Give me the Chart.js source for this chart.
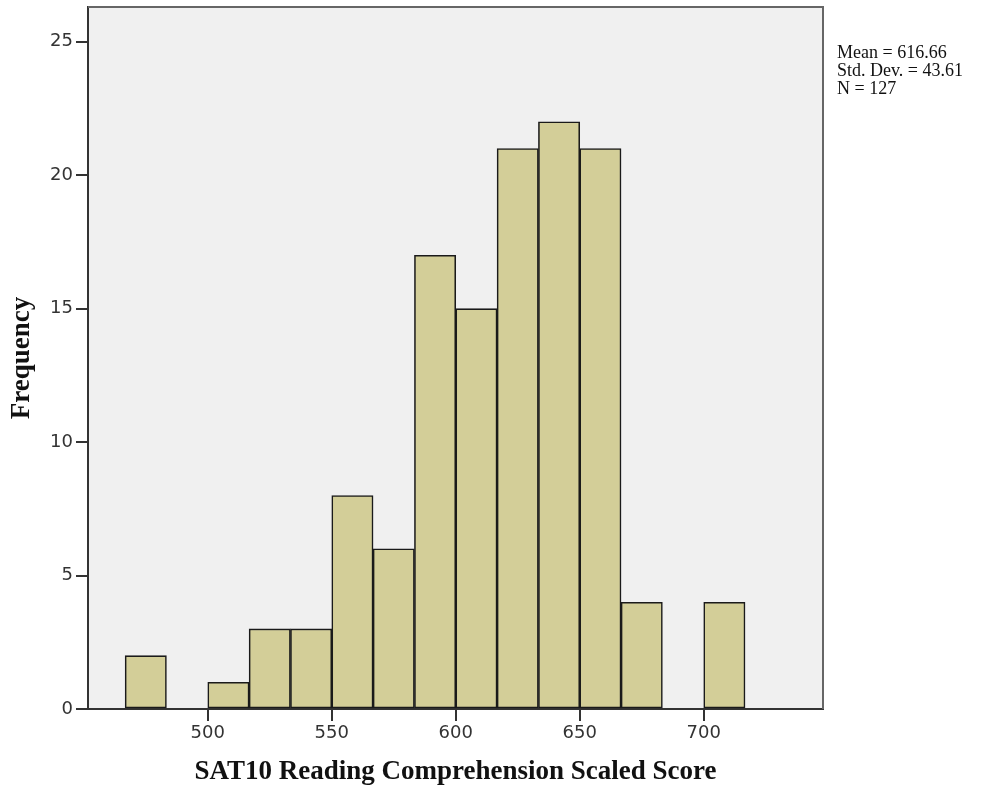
<!DOCTYPE html>
<html>
<head>
<meta charset="utf-8">
<script src="https://cdn.jsdelivr.net/npm/chart.js@4/dist/chart.umd.min.js"></script>
<style>
  html, body { margin: 0; padding: 0; background: #fff; }
  #wrap { width: 982px; height: 793px; }
</style>
</head>
<body>
<div id="wrap"><canvas id="hist"></canvas></div>
<script>
// bin centres (bin width 16.67) and counts
const binCenters = [475, 491.67, 508.33, 525, 541.67, 558.33, 575, 591.67, 608.33, 625, 641.67, 658.33, 675, 691.67, 708.33];
const frequencies = [2, 0, 1, 3, 3, 8, 6, 17, 15, 21, 22, 21, 4, 0, 4];
const xTicks = [500, 550, 600, 650, 700];
const yTicks = [0, 5, 10, 15, 20, 25];
const statsLines = ['Mean = 616.66', 'Std. Dev. = 43.61', 'N = 127'];

const points = binCenters.map((c, i) => ({ x: c, y: frequencies[i] }));

// grey plot background + frame, and the stats box on the right
const framePlugin = {
  id: 'frame',
  beforeDraw(chart) {
    const { ctx, chartArea: a } = chart;
    ctx.save();
    ctx.fillStyle = '#F0F0F0';
    ctx.fillRect(a.left, a.top, a.right - a.left, a.bottom - a.top);
    ctx.restore();
  },
  afterDraw(chart) {
    const { ctx, chartArea: a } = chart;
    ctx.save();
    ctx.strokeStyle = '#666';
    ctx.lineWidth = 2;
    ctx.beginPath();
    ctx.moveTo(a.left, a.top);
    ctx.lineTo(a.right, a.top);
    ctx.lineTo(a.right, a.bottom);
    ctx.stroke();
    ctx.fillStyle = '#111';
    ctx.font = '18px "Liberation Serif", serif';
    ctx.textBaseline = 'alphabetic';
    statsLines.forEach((t, i) => ctx.fillText(t, a.right + 14, 58 + i * 18));
    ctx.restore();
  }
};

new Chart(document.getElementById('hist'), {
  type: 'bar',
  data: {
    datasets: [{
      data: points,
      backgroundColor: '#D3CE98',
      borderColor: '#1a1a1a',
      borderWidth: 1.6,
      borderSkipped: false,
      barPercentage: 1,
      categoryPercentage: 1
    }]
  },
  options: {
    animation: false,
    responsive: true,
    maintainAspectRatio: false,
    layout: { padding: { top: 7, right: 159, left: 0, bottom: 0 } },
    scales: {
      x: {
        type: 'linear',
        offset: false,
        min: 451.7,
        max: 748.1,
        afterFit(scale) {
          scale.height = 84;
          scale.paddingLeft = 0;
          scale.paddingRight = 0;
        },
        afterBuildTicks(scale) { scale.ticks = xTicks.map(v => ({ value: v })); },
        ticks: {
          includeBounds: false,
          padding: 2,
          color: '#333',
          font: { family: '"DejaVu Sans", sans-serif', size: 18 }
        },
        grid: { offset: false, drawTicks: true, drawOnChartArea: false, tickLength: 12, tickColor: '#333', tickWidth: 2, color: '#333', lineWidth: 2 },
        border: { color: '#333', width: 2 },
        title: {
          display: true,
          text: 'SAT10 Reading Comprehension Scaled Score',
          color: '#111',
          font: { family: '"Liberation Serif", serif', size: 27, weight: 'bold' },
          padding: { top: 0, bottom: 5 }
        }
      },
      y: {
        min: 0,
        max: 26.3,
        afterFit(scale) {
          scale.width = 88;
          scale.paddingTop = 0;
          scale.paddingBottom = 0;
        },
        afterBuildTicks(scale) { scale.ticks = yTicks.map(v => ({ value: v })); },
        ticks: {
          includeBounds: false,
          padding: 3,
          color: '#333',
          font: { family: '"DejaVu Sans", sans-serif', size: 18 }
        },
        grid: { drawOnChartArea: false, tickLength: 12, tickColor: '#333', tickWidth: 2, color: '#333', lineWidth: 2 },
        border: { color: '#333', width: 2 },
        title: {
          display: true,
          text: 'Frequency',
          color: '#111',
          font: { family: '"Liberation Serif", serif', size: 27, weight: 'bold' },
          padding: { top: 6, bottom: 0 }
        }
      }
    },
    plugins: {
      legend: { display: false },
      tooltip: { enabled: false }
    }
  },
  plugins: [framePlugin]
});
</script>
</body>
</html>
